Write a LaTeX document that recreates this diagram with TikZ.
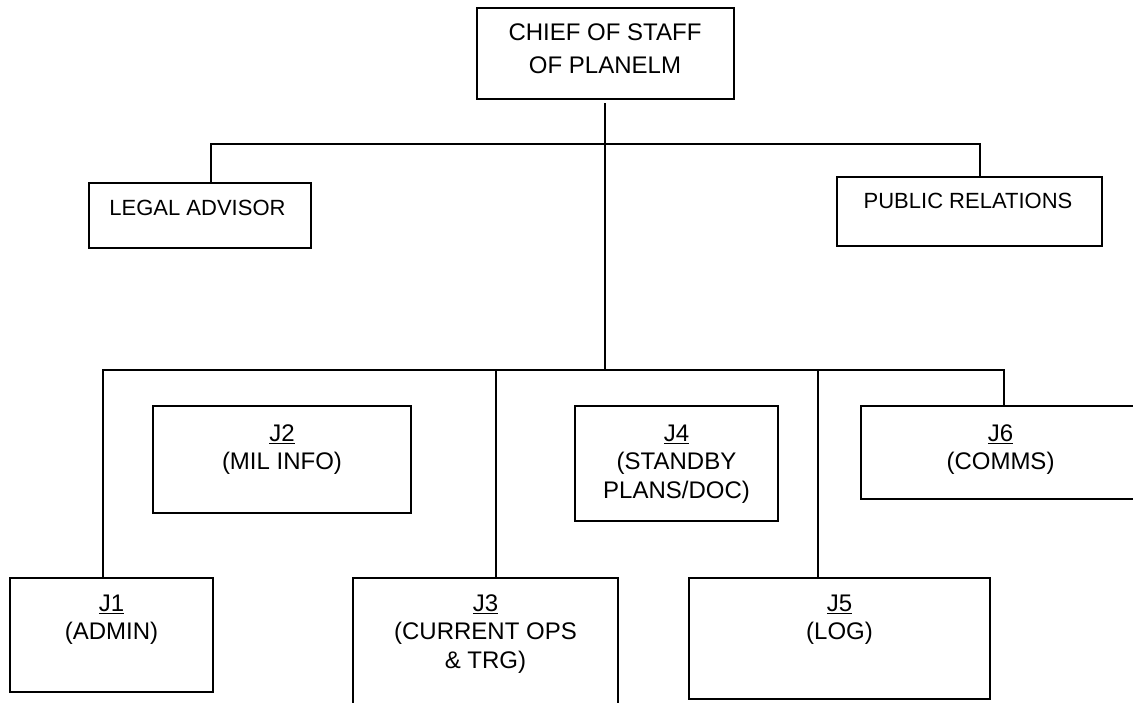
\documentclass[tikz,border=0pt]{standalone}
\usepackage{fontspec}
\setmainfont{Liberation Sans}
\begin{document}
\begin{tikzpicture}[x=1pt,y=-1pt,
  box/.style={draw,line width=1.5pt,inner sep=0pt,outer sep=0pt},
  conn/.style={line width=1.5pt},
  lbl/.style={inner sep=0pt,align=center,font=\fontsize{24}{28.5}\selectfont,anchor=north},
  toplbl/.style={inner sep=0pt,align=center,font=\fontsize{24}{33}\selectfont,anchor=north},
  slbl/.style={inner sep=0pt,font=\fontsize{22}{26}\selectfont}]
\useasboundingbox (0,0) rectangle (1133,702);
% boxes
\node[box,minimum width=257pt,minimum height=91pt] (chief) at (605.5,53.5) {};
\node[box,minimum width=222pt,minimum height=65pt] (legal) at (200,215.5) {};
\node[box,minimum width=265pt,minimum height=69pt] (pr) at (969.5,211.5) {};
\node[box,minimum width=258pt,minimum height=107pt] (j2) at (282,459.5) {};
\node[box,minimum width=203pt,minimum height=115pt] (j4) at (676.5,463.5) {};
\node[box,minimum width=279pt,minimum height=93pt] (j6) at (1000.5,452.5) {};
\node[box,minimum width=203pt,minimum height=114pt] (j1) at (111.5,635) {};
\node[box,minimum width=265pt,minimum height=142pt] (j3) at (485.5,649) {};
\node[box,minimum width=301pt,minimum height=121pt] (j5) at (839.5,638.5) {};
% texts
\node[toplbl] (chieft) at (605,23.4) {CHIEF OF STAFF\\OF PLANELM};
\node[slbl] (legalt) at (197.5,208) {LEGAL ADVISOR};
\node[slbl] (prt) at (968,201) {PUBLIC RELATIONS};
\node[lbl] (j2t) at (282,424.4) {\underline{J2}\\(MIL INFO)};
\node[lbl] (j4t) at (676.5,424.4) {\underline{J4}\\(STANDBY\\PLANS/DOC)};
\node[lbl] (j6t) at (1000.5,424.4) {\underline{J6}\\(COMMS)};
\node[lbl] (j1t) at (111.5,594.4) {\underline{J1}\\(ADMIN)};
\node[lbl] (j3t) at (485.5,594.4) {\underline{J3}\\(CURRENT OPS\\\& TRG)};
\node[lbl] (j5t) at (839.5,594.4) {\underline{J5}\\(LOG)};
% connector points
\coordinate (trunktop) at (605,103);
\coordinate (bus1) at (605,144);
\coordinate (bus2) at (605,370);
\coordinate (legalin) at (211,183);
\coordinate (prin) at (980,177);
\coordinate (j1in) at (103,578);
\coordinate (j3in) at (496,578);
\coordinate (j5in) at (818,578);
\coordinate (j6in) at (1004,406);
% connectors
\draw[conn] (trunktop) -- (bus2);
\draw[conn] (legalin) |- (bus1) -| (prin);
\draw[conn] (j1in) |- (bus2) -| (j6in);
\draw[conn] (j3in) -- (j3in |- bus2);
\draw[conn] (j5in) -- (j5in |- bus2);
\end{tikzpicture}
\end{document}
